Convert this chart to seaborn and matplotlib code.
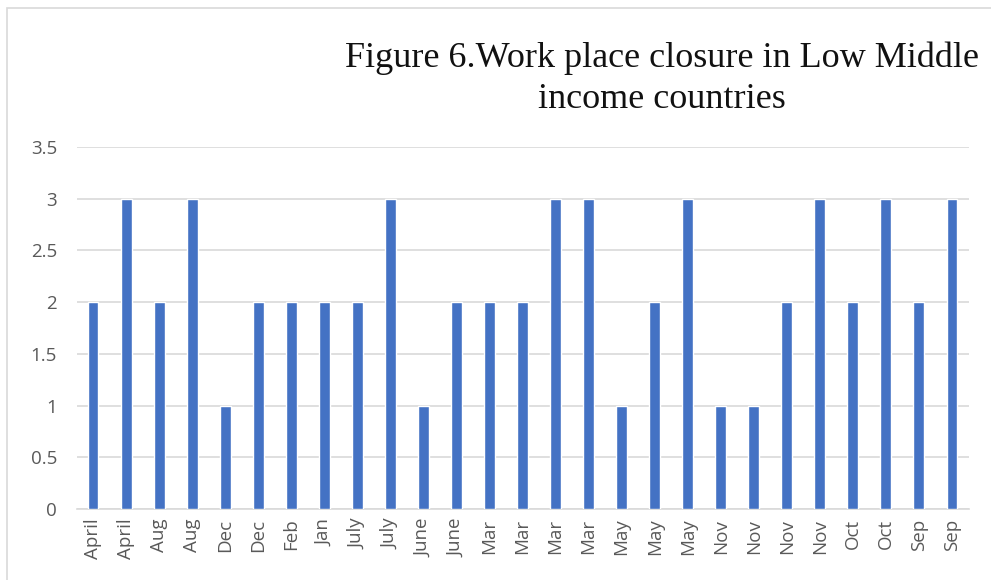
import matplotlib
matplotlib.use("Agg")
import matplotlib.pyplot as plt
import seaborn as sns
import pandas as pd
from matplotlib.patches import Rectangle

categories = ["April", "April", "Aug", "Aug", "Dec", "Dec", "Feb", "Jan", "July", "July",
              "June", "June", "Mar", "Mar", "Mar", "Mar", "May", "May", "May",
              "Nov", "Nov", "Nov", "Nov", "Oct", "Oct", "Sep", "Sep"]
values = [2, 3, 2, 3, 1, 2, 2, 2, 2, 3, 1, 2, 2, 2, 3, 3, 1, 2, 3, 1, 1, 2, 3, 2, 3, 2, 3]
yticks = [0, 0.5, 1, 1.5, 2, 2.5, 3, 3.5]
ytick_labels = ["0", "0.5", "1", "1.5", "2", "2.5", "3", "3.5"]
title = "Figure 6.Work place closure in Low Middle\nincome countries"

sns.set_style("white")
plt.rcParams['font.family'] = ['Open Sans', 'DejaVu Sans']

df = pd.DataFrame({"pos": [str(i) for i in range(len(categories))], "value": values})

fig = plt.figure(figsize=(9.91, 5.80), dpi=100)
ax = fig.add_axes([76.5/991, 1 - 509/580, (968.5-76.5)/991, (509-147)/580])
sns.barplot(data=df, x="pos", y="value", color="#4472C4", saturation=1, width=0.33, ax=ax,
            errorbar=None, zorder=3)
ax.set_ylim(0, 3.5)
ax.set_xlim(-0.5, len(categories) - 0.5)
ax.set_yticks(yticks)
ax.set_yticklabels(ytick_labels, fontsize=13.5, color="#595959")
ax.set_xticks(range(len(categories)))
ax.set_xticklabels(categories, rotation=90, fontsize=13.5, color="#595959")
ax.set_xlabel("")
ax.set_ylabel("")
ax.grid(axis="y", color="#D9D9D9", linewidth=1.2, zorder=0)
for s in ["top", "right", "left"]:
    ax.spines[s].set_visible(False)
ax.spines["bottom"].set_color("#D9D9D9")
ax.spines["bottom"].set_linewidth(1.2)
ax.tick_params(axis="x", length=0, pad=7)
ax.tick_params(axis="y", length=0, pad=14)

fig.text(662/991, 1 - 78.5/580, title, ha="center", va="center", fontsize=26,
         family="Liberation Serif", color="#111111", linespacing=1.33)

fig.patches.append(Rectangle((7/991, -0.1), (1 - 7/991) + 0.1, 1 - 8/580 + 0.1,
                             transform=fig.transFigure, fill=False, edgecolor="#D9D9D9",
                             linewidth=1.2))

fig.savefig("out.png", dpi=100)
